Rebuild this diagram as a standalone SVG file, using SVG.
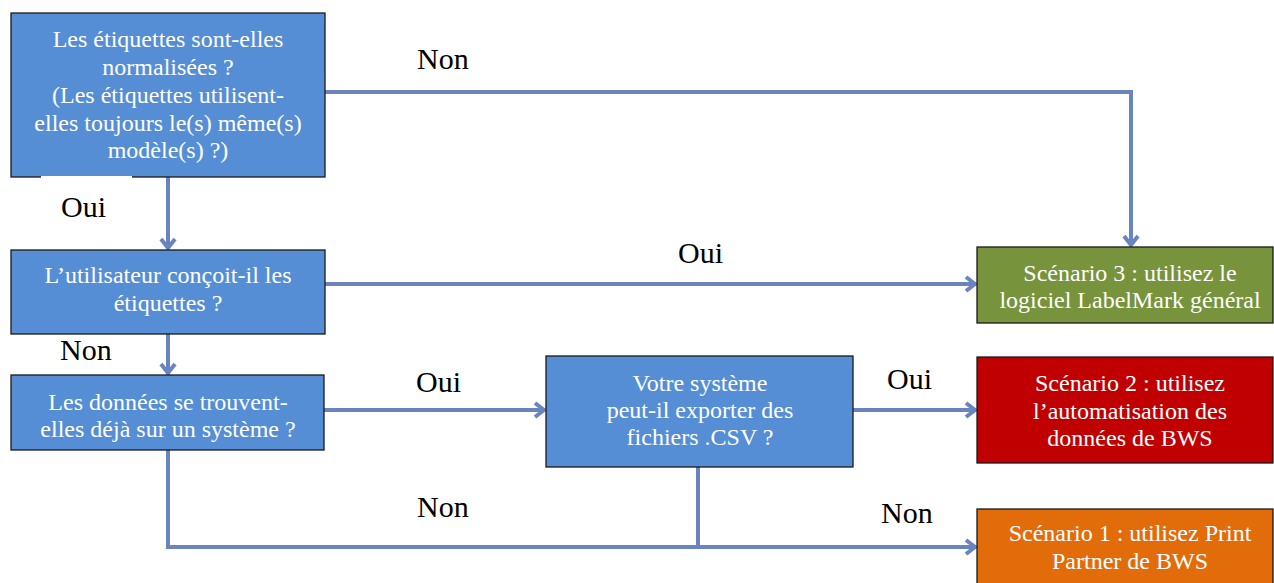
<svg xmlns="http://www.w3.org/2000/svg" width="1274" height="583" viewBox="0 0 1274 583">
<style>
.box{stroke:#1a1a1a;stroke-width:1.3}
.q{fill:#558ED5}
.bt{font-family:"Liberation Serif","Times New Roman",serif;font-size:24px;fill:#ffffff;text-anchor:middle}
.lbl{font-family:"Liberation Serif","Times New Roman",serif;font-size:30px;fill:#000000}
.c{fill:none;stroke:#6A84BF;stroke-width:4}
</style>
<defs>
<marker id="ah" markerUnits="userSpaceOnUse" markerWidth="16" markerHeight="18" viewBox="0 0 16 18" refX="13" refY="9" orient="auto">
<path d="M3,2 L12,9 L3,16" fill="none" stroke="#6A84BF" stroke-width="4"/>
</marker>
</defs>
<rect width="1274" height="583" fill="#ffffff"/>

<g id="connectors">
<polyline class="c" points="325,92 1131,92 1131,246" marker-end="url(#ah)"/>
<line class="c" x1="168" y1="177" x2="168" y2="249" marker-end="url(#ah)"/>
<line class="c" x1="325" y1="284" x2="976" y2="284" marker-end="url(#ah)"/>
<line class="c" x1="168" y1="334" x2="168" y2="374" marker-end="url(#ah)"/>
<line class="c" x1="324" y1="410" x2="545" y2="410" marker-end="url(#ah)"/>
<line class="c" x1="853" y1="410" x2="976" y2="410" marker-end="url(#ah)"/>
<polyline class="c" points="168,450 168,547 976,547" marker-end="url(#ah)"/>
<line class="c" x1="698" y1="467" x2="698" y2="547"/>
</g>

<g id="q1">
<rect class="box q" x="11" y="13" width="314" height="164"/>
<rect x="41" y="176" width="91" height="4" fill="#ffffff"/>
<text class="bt" x="168" y="47">Les étiquettes sont-elles</text>
<text class="bt" x="168" y="75">normalisées ?</text>
<text class="bt" x="168" y="103">(Les étiquettes utilisent-</text>
<text class="bt" x="168" y="131">elles toujours le(s) même(s)</text>
<text class="bt" x="168" y="158">modèle(s) ?)</text>
</g>

<g id="q2">
<rect class="box q" x="11" y="250" width="314" height="84"/>
<text class="bt" x="168" y="283">L’utilisateur conçoit-il les</text>
<text class="bt" x="168" y="311">étiquettes ?</text>
</g>

<g id="q3">
<rect class="box q" x="11" y="375" width="313" height="75"/>
<text class="bt" x="168" y="410">Les données se trouvent-</text>
<text class="bt" x="168" y="437">elles déjà sur un système ?</text>
</g>

<g id="q4">
<rect class="box q" x="546" y="356" width="307" height="111"/>
<text class="bt" x="700" y="391">Votre système</text>
<text class="bt" x="700" y="418">peut-il exporter des</text>
<text class="bt" x="700" y="445">fichiers .CSV ?</text>
</g>

<g id="s3">
<rect class="box" x="977" y="247" width="296" height="76" fill="#77933C"/>
<text class="bt" x="1130" y="281">Scénario 3 : utilisez le</text>
<text class="bt" x="1130" y="308">logiciel LabelMark général</text>
</g>

<g id="s2">
<rect class="box" x="977" y="357" width="296" height="106" fill="#C00000"/>
<text class="bt" x="1130" y="391">Scénario 2 : utilisez</text>
<text class="bt" x="1130" y="419">l’automatisation des</text>
<text class="bt" x="1130" y="446">données de BWS</text>
</g>

<g id="s1">
<rect class="box" x="977" y="509" width="296" height="80" fill="#E36C0A"/>
<text class="bt" x="1130" y="541">Scénario 1 : utilisez Print</text>
<text class="bt" x="1130" y="569">Partner de BWS</text>
</g>

<g id="labels">
<text class="lbl" x="417" y="69">Non</text>
<text class="lbl" x="61" y="217">Oui</text>
<text class="lbl" x="678" y="263">Oui</text>
<text class="lbl" x="60" y="360">Non</text>
<text class="lbl" x="416" y="392">Oui</text>
<text class="lbl" x="887" y="389">Oui</text>
<text class="lbl" x="417" y="517">Non</text>
<text class="lbl" x="881" y="523">Non</text>
</g>
</svg>
